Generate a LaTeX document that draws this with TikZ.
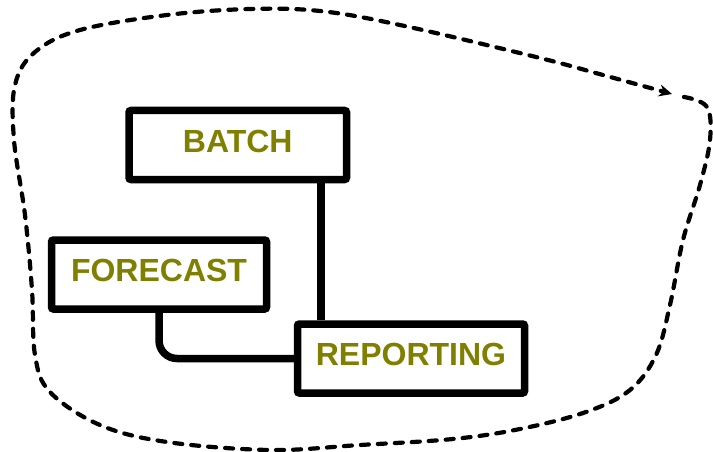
\documentclass[tikz,border=0pt]{standalone}
\usepackage{fontspec}
\setmainfont{Liberation Sans}
\usetikzlibrary{arrows.meta}
\definecolor{olivetext}{HTML}{808000}
\begin{document}
\begin{tikzpicture}[x=1pt,y=-1pt,
  boxnode/.style={draw=black, line width=7.5pt, rounded corners=2pt, fill=white,
    inner sep=0pt, minimum height=69pt, text height=22.5pt, text depth=8pt,
    font=\fontsize{32}{32}\selectfont\bfseries, text=olivetext},
  link/.style={draw=black, line width=7.5pt},
  blob/.style={draw=black, line width=4.2pt, dash pattern=on 8pt off 9pt, line cap=round}]
\useasboundingbox (0,0) rectangle (713,452);
\draw[blob, -{Stealth[length=13pt,width=12pt]}] plot[smooth, tension=0.6] coordinates {
  (684,97) (707,107) (710,140) (700,185) (683,240) (670,305) (656,355) (630,390)
  (586,412) (520,429) (453,439) (360,445) (270,450) (167,442) (100,425) (50,392)
  (35,355) (32,290) (25,215) (14,140) (15,85) (35,52) (80,30) (167,15) (250,9)
  (320,11) (400,25) (536,57) (603,75) (672,94)};
\node[boxnode, minimum width=217.5pt] (batch) at (237.75,145) {BATCH};
\node[boxnode, minimum width=215pt] (forecast) at (159,274.5) {FORECAST};
\node[boxnode, minimum width=227pt] (reporting) at (411,358.5) {REPORTING};
\coordinate (bx) at (321,0);
\draw[link] (batch.south -| bx) -- (reporting.north -| bx);
\draw[link, rounded corners=18pt] (forecast.south) |- (reporting.west);
\end{tikzpicture}
\end{document}
